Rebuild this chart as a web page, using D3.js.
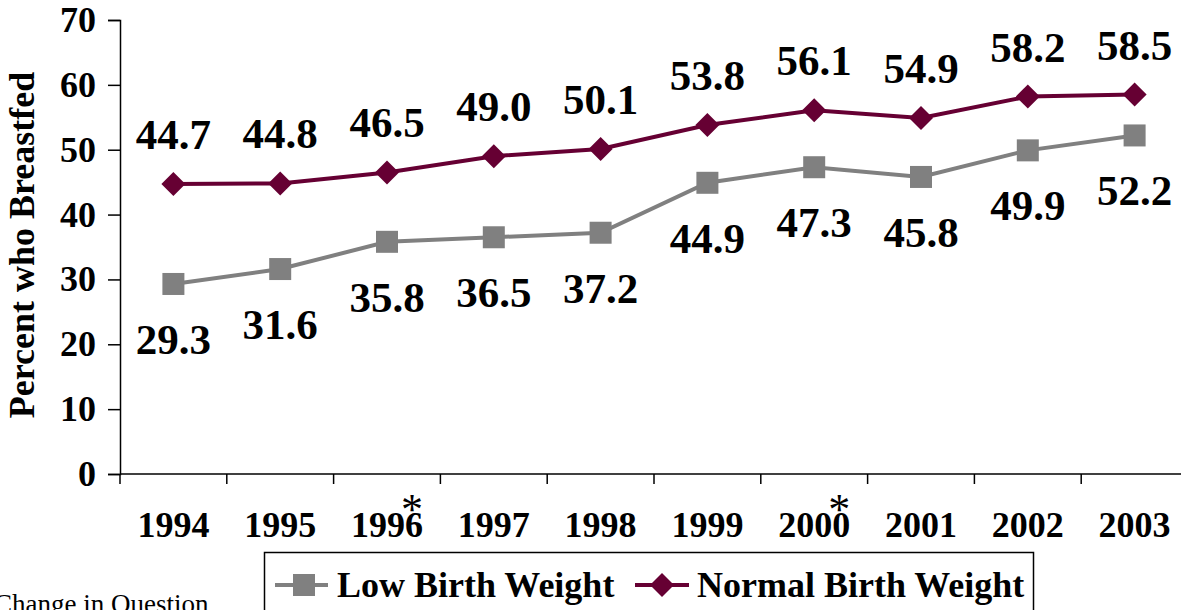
<!DOCTYPE html>
<html>
<head>
<meta charset="utf-8">
<script src="https://cdn.jsdelivr.net/npm/d3@7"></script>
<style>
  html, body { margin: 0; padding: 0; background: #fff; overflow: hidden; }
  svg { display: block; }
  text { font-family: "Liberation Serif", "Times New Roman", serif; }
</style>
</head>
<body>
<svg id="chart" width="1181" height="610"></svg>
<script>
// Breastfeeding rates by birth weight, 1994-2003
const years = ["1994", "1995", "1996", "1997", "1998", "1999", "2000", "2001", "2002", "2003"];
const lowBirthWeight = [29.3, 31.6, 35.8, 36.5, 37.2, 44.9, 47.3, 45.8, 49.9, 52.2];
const normalBirthWeight = [44.7, 44.8, 46.5, 49.0, 50.1, 53.8, 56.1, 54.9, 58.2, 58.5];
const yTicks = [0, 10, 20, 30, 40, 50, 60, 70];
const starredYears = ["1996", "2000"];

const svg = d3.select("#chart");

const x = d3.scaleBand().domain(years).range([120, 1188]).padding(0);
const y = d3.scaleLinear().domain([0, 70]).range([474, 20]);
const cx = d => x(d) + x.bandwidth() / 2;

// Y axis
const yAxis = d3.axisLeft(y).tickValues(yTicks).tickSize(12).tickPadding(12).tickFormat(d3.format("d"));
const gy = svg.append("g").attr("transform", "translate(120,0)").call(yAxis);
gy.select(".domain").attr("stroke", "#000").attr("stroke-width", 1.5);
gy.selectAll(".tick line").attr("stroke", "#000").attr("stroke-width", 1.5);
gy.selectAll(".tick text").attr("font-size", 36).attr("font-weight", "bold")
  .attr("font-family", "'Liberation Serif', serif").attr("fill", "#000");

// X axis: ticks on category boundaries
const gx = svg.append("g").attr("transform", "translate(0,474)");
gx.append("line").attr("x1", 120).attr("x2", 1188).attr("y1", 0).attr("y2", 0)
  .attr("stroke", "#000").attr("stroke-width", 1.5);
gx.selectAll(".bt").data(years.concat(["end"])).join("line")
  .attr("class", "bt")
  .attr("x1", (d, i) => 120 + i * x.bandwidth())
  .attr("x2", (d, i) => 120 + i * x.bandwidth())
  .attr("y1", 0).attr("y2", 10)
  .attr("stroke", "#000").attr("stroke-width", 1.5);
gx.selectAll(".yl").data(years).join("text")
  .attr("class", "yl")
  .attr("x", d => cx(d)).attr("y", 63)
  .attr("text-anchor", "middle")
  .attr("font-size", 36).attr("font-weight", "bold")
  .text(d => d);
gx.selectAll(".star").data(starredYears).join("text")
  .attr("class", "star")
  .attr("x", d => cx(d) + 25).attr("y", 50)
  .attr("text-anchor", "middle")
  .attr("font-size", 44)
  .text("*");

// Y axis title
svg.append("text")
  .attr("transform", "translate(34,245) rotate(-90)")
  .attr("text-anchor", "middle")
  .attr("font-size", 36).attr("font-weight", "bold")
  .text("Percent who Breastfed");

const line = d3.line().x(d => cx(d.year)).y(d => y(d.v));
const lowData = years.map((yr, i) => ({ year: yr, v: lowBirthWeight[i] }));
const normData = years.map((yr, i) => ({ year: yr, v: normalBirthWeight[i] }));

const grey = "#808080", maroon = "#660033";

svg.append("path").datum(lowData).attr("d", line)
  .attr("fill", "none").attr("stroke", grey).attr("stroke-width", 4);
svg.append("path").datum(normData).attr("d", line)
  .attr("fill", "none").attr("stroke", maroon).attr("stroke-width", 4);

const sq = 22;
svg.selectAll(".sq").data(lowData).join("rect")
  .attr("class", "sq")
  .attr("x", d => cx(d.year) - sq / 2).attr("y", d => y(d.v) - sq / 2)
  .attr("width", sq).attr("height", sq).attr("fill", grey);

const diamond = (w, h) => `M0,${-h / 2}L${w / 2},0L0,${h / 2}L${-w / 2},0Z`;
svg.selectAll(".dm").data(normData).join("path")
  .attr("class", "dm")
  .attr("transform", d => `translate(${cx(d.year)},${y(d.v)})`)
  .attr("d", diamond(24, 24)).attr("fill", maroon);

// Value labels
const fmt = d3.format(".1f");
svg.selectAll(".nl").data(normData).join("text")
  .attr("class", "nl")
  .attr("x", d => cx(d.year)).attr("y", d => y(d.v) - 35)
  .attr("text-anchor", "middle")
  .attr("font-size", 43).attr("font-weight", "bold")
  .text(d => fmt(d.v));
svg.selectAll(".ll").data(lowData).join("text")
  .attr("class", "ll")
  .attr("x", d => cx(d.year)).attr("y", d => y(d.v) + 70)
  .attr("text-anchor", "middle")
  .attr("font-size", 43).attr("font-weight", "bold")
  .text(d => fmt(d.v));

// Legend
const lg = svg.append("g");
lg.append("rect").attr("x", 264.5).attr("y", 552.5).attr("width", 769).attr("height", 80)
  .attr("fill", "#fff").attr("stroke", "#000").attr("stroke-width", 1.5);
lg.append("line").attr("x1", 275).attr("x2", 328).attr("y1", 585).attr("y2", 585)
  .attr("stroke", grey).attr("stroke-width", 4);
lg.append("rect").attr("x", 293).attr("y", 574).attr("width", sq).attr("height", sq).attr("fill", grey);
lg.append("text").attr("x", 337).attr("y", 597)
  .attr("font-size", 36).attr("font-weight", "bold").text("Low Birth Weight");
lg.append("line").attr("x1", 635).attr("x2", 689).attr("y1", 585).attr("y2", 585)
  .attr("stroke", maroon).attr("stroke-width", 4);
lg.append("path").attr("transform", "translate(662,585)").attr("d", diamond(24, 24)).attr("fill", maroon);
lg.append("text").attr("x", 697).attr("y", 597)
  .attr("font-size", 36).attr("font-weight", "bold").text("Normal Birth Weight");

// Footnote
svg.append("text").attr("x", -6).attr("y", 613)
  .attr("font-size", 27).text("Change in Question");
</script>
</body>
</html>
